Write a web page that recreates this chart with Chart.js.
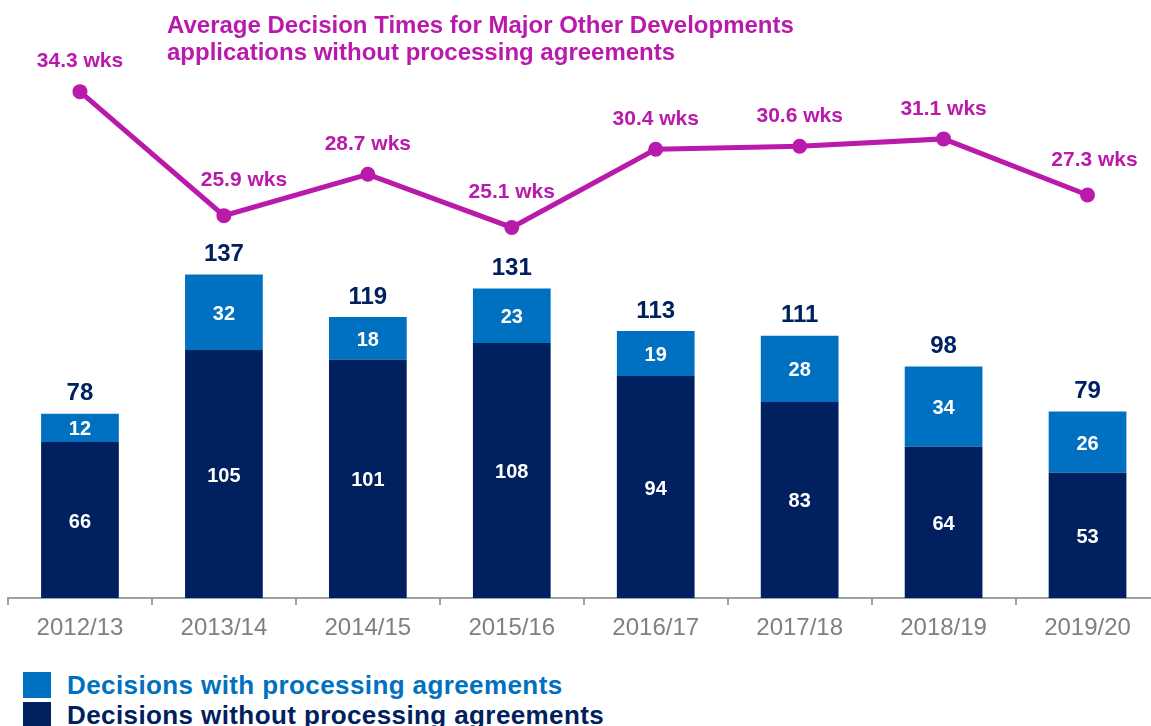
<!DOCTYPE html>
<html>
<head>
<meta charset="utf-8">
<script src="https://cdn.jsdelivr.net/npm/chart.js@4"></script>
<style>
  html, body { margin: 0; padding: 0; background: #fff; overflow: hidden; }
  body { width: 1151px; height: 726px; position: relative; font-family: "Liberation Sans", Arial, sans-serif; }
  #wrap { position: absolute; left: 0; top: 0; width: 1151px; height: 650px; overflow: hidden; }
  #wrap canvas { position: absolute; left: 0; top: 0; }
  .title { position: absolute; left: 167px; top: 11px; color: #b91aab; font-weight: bold; font-size: 24px; line-height: 27px; white-space: nowrap; }
  .leg { position: absolute; left: 23px; height: 30px; display: flex; align-items: center; font-weight: bold; font-size: 26px; letter-spacing: 0.4px; white-space: nowrap; }
  .leg span.sw { display: inline-block; width: 28px; height: 26px; margin-right: 16px; }
</style>
</head>
<body>
<div id="wrap"><canvas id="chart" width="1167" height="650"></canvas></div>
<div class="title">Average Decision Times for Major Other Developments<br>applications without processing agreements</div>
<div class="leg" style="top:670px;color:#0070c0"><span class="sw" style="background:#0070c0"></span>Decisions with processing agreements</div>
<div class="leg" style="top:700px;color:#002060"><span class="sw" style="background:#002060"></span>Decisions without processing agreements</div>
<script>
/* stacked decisions + average decision time line */

const years      = ['2012/13', '2013/14', '2014/15', '2015/16', '2016/17', '2017/18', '2018/19', '2019/20'];
const withoutPA  = [66, 105, 101, 108, 94, 83, 64, 53];
const withPA     = [12, 32, 18, 23, 19, 28, 34, 26];
const avgWeeks   = [34.3, 25.9, 28.7, 25.1, 30.4, 30.6, 31.1, 27.3];

const NAVY = '#002060', BLUE = '#0070c0', MAGENTA = '#b91aab';
const FONT = '"Liberation Sans", Arial, sans-serif';

// small sideways nudges for a couple of the week labels, as in the original
const weekLabelNudge = [0, 20, 0, 0, 0, 0, 0, 7];

const labelPlugin = {
  id: 'valueLabels',
  afterDatasetsDraw(chart) {
    const ctx = chart.ctx;
    const low  = chart.getDatasetMeta(0).data;
    const high = chart.getDatasetMeta(1).data;
    const pts  = chart.getDatasetMeta(2).data;
    ctx.save();
    ctx.textAlign = 'center';
    ctx.textBaseline = 'middle';

    ctx.fillStyle = '#fff';
    ctx.font = 'bold 20px ' + FONT;
    low.forEach((b, i) => ctx.fillText(withoutPA[i], b.x, (b.y + b.base) / 2 + 2));
    high.forEach((b, i) => ctx.fillText(withPA[i], b.x, (b.y + b.base) / 2 + 2));

    ctx.fillStyle = NAVY;
    ctx.font = 'bold 24px ' + FONT;
    high.forEach((b, i) => ctx.fillText(withoutPA[i] + withPA[i], b.x, b.y - 20));

    ctx.fillStyle = MAGENTA;
    ctx.font = 'bold 21px ' + FONT;
    pts.forEach((p, i) => {
      const dy = (i === 1 || i === 3 || i === 7) ? 35 : 30;
      ctx.fillText(avgWeeks[i].toFixed(1) + ' wks', p.x + weekLabelNudge[i], p.y - dy);
    });
    ctx.restore();
  }
};

new Chart(document.getElementById('chart'), {
  type: 'bar',
  data: {
    labels: years,
    datasets: [
      {
        label: 'Decisions without processing agreements',
        data: withoutPA,
        backgroundColor: NAVY,
        barPercentage: 0.54,
        categoryPercentage: 1,
        order: 1,
      },
      {
        label: 'Decisions with processing agreements',
        data: withPA,
        backgroundColor: BLUE,
        barPercentage: 0.54,
        categoryPercentage: 1,
        order: 1,
      },
      {
        label: 'Average decision time (weeks)',
        data: avgWeeks,
        type: 'line',
        yAxisID: 'y2',
        borderColor: MAGENTA,
        backgroundColor: MAGENTA,
        borderWidth: 5,
        pointRadius: 7.5,
        pointHoverRadius: 7.5,
        pointBorderWidth: 0,
        fill: false,
        tension: 0,
        order: 0,
      }
    ]
  },
  options: {
    responsive: false,
    animation: false,
    devicePixelRatio: 1,
    layout: { padding: { left: 8, right: 7, top: 7, bottom: 0 } },
    plugins: { legend: { display: false }, tooltip: { enabled: false } },
    scales: {
      x: {
        stacked: true,
        afterFit: s => { s.height = 52; },
        grid: { drawOnChartArea: false, drawTicks: true, tickLength: 7, color: '#a0a0a0', lineWidth: 2 },
        border: { display: true, color: '#a0a0a0', width: 2 },
        ticks: { color: '#808080', font: { family: FONT, size: 24 }, padding: 9, maxRotation: 0, autoSkip: false }
      },
      y:  { stacked: true, display: false, min: 0, max: 250 },
      y2: { display: false, min: 0, max: 40, position: 'right' }
    }
  },
  plugins: [labelPlugin]
});
</script>
</body>
</html>
